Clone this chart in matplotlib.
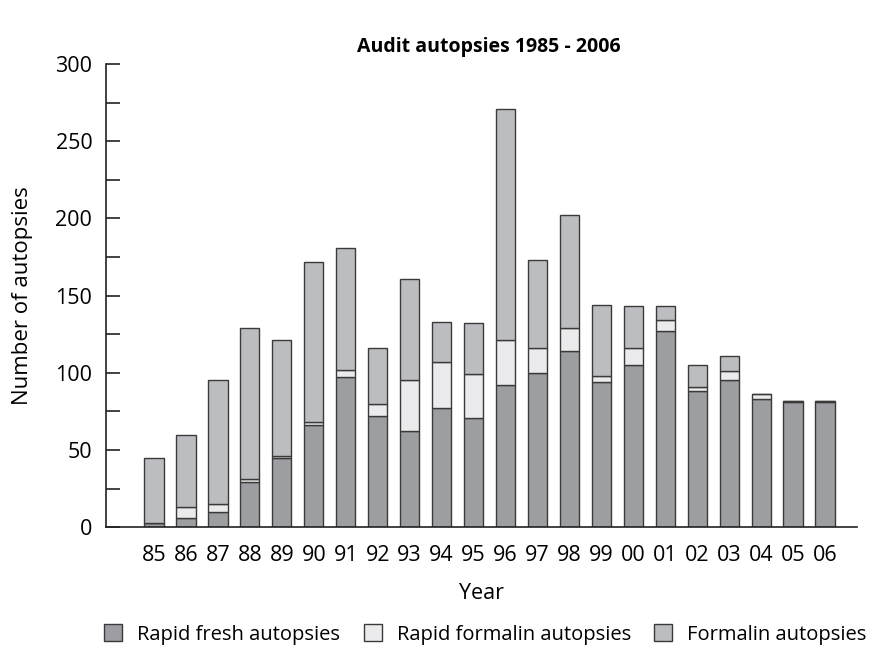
import matplotlib
matplotlib.use("Agg")
import matplotlib.pyplot as plt
import numpy as np

years = ["85", "86", "87", "88", "89", "90", "91", "92", "93", "94", "95",
         "96", "97", "98", "99", "00", "01", "02", "03", "04", "05", "06"]
rapid_fresh = [3, 6, 10, 29, 45, 66, 97, 72, 62, 77, 71,
               92, 100, 114, 94, 105, 127, 88, 95, 83, 81, 81]
rapid_formalin = [0, 7, 5, 2, 1, 2, 5, 8, 33, 30, 28,
                  29, 16, 15, 4, 11, 7, 3, 6, 3, 1, 1]
formalin = [42, 47, 80, 98, 75, 104, 79, 36, 66, 26, 33,
            150, 57, 73, 46, 27, 9, 14, 10, 0, 0, 0]

plt.rcParams['font.family'] = ['Open Sans', 'DejaVu Sans']

fig = plt.figure(figsize=(8.7, 6.5), dpi=100)
ax = fig.add_axes([0.122, 0.189, 0.863, 0.7125])

x = np.arange(len(years))
w = 0.6
ec = "#3a3a3a"
c_fresh = "#9d9ea2"
c_rf = "#ebebed"
c_f = "#bcbdc0"
rf = np.array(rapid_fresh)
rfo = np.array(rapid_formalin)
fo = np.array(formalin)
ax.bar(x, rf, w, color=c_fresh, edgecolor=ec, linewidth=1.0, label="Rapid fresh autopsies")
ax.bar(x, rfo, w, bottom=rf, color=c_rf, edgecolor=ec, linewidth=1.0, label="Rapid formalin autopsies")
ax.bar(x, fo, w, bottom=rf + rfo, color=c_f, edgecolor=ec, linewidth=1.0, label="Formalin autopsies")

ax.set_xlim(-1.5, 22)
ax.set_ylim(0, 300)
ax.spines['top'].set_visible(False)
ax.spines['right'].set_visible(False)
ax.spines['left'].set_color("#222222")
ax.spines['bottom'].set_color("#222222")
ax.spines['left'].set_linewidth(1.2)
ax.spines['bottom'].set_linewidth(1.2)

ax.set_yticks(np.arange(0, 301, 50))
ax.set_yticks(np.arange(0, 301, 25), minor=True)
ax.tick_params(axis='y', which='both', direction='in', length=10, width=1.2, color="#222222", labelsize=15.5, pad=10)
ax.set_xticks(x)
ax.set_xticklabels(years)
ax.tick_params(axis='x', length=0, labelsize=15.5, pad=13)

ax.set_ylabel("Number of autopsies", fontsize=16, labelpad=16)
ax.set_xlabel("Year", fontsize=15.5, labelpad=12)
ax.set_title("Audit autopsies 1985 - 2006", fontsize=14, fontweight='bold', pad=9, x=0.51)

handles, labels = ax.get_legend_handles_labels()
fig.legend(handles, labels, loc='center', bbox_to_anchor=(0.558, 0.024), ncol=3,
           frameon=False, fontsize=14.5, handlelength=0.9, handleheight=0.9,
           handletextpad=0.75, columnspacing=1.15)

fig.savefig("out.png", dpi=100)
